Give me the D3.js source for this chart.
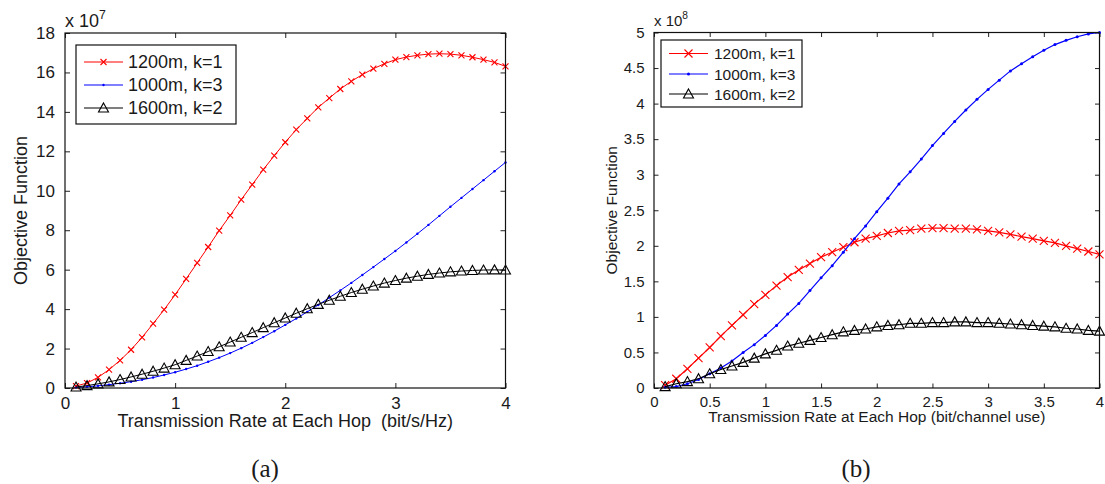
<!DOCTYPE html>
<html><head><meta charset="utf-8">
<script src="https://cdn.jsdelivr.net/npm/d3@7"></script>
<style>
html,body{margin:0;padding:0;background:#fff;}
svg{display:block;}
text{fill:#1a1a1a;}
</style></head>
<body>
<svg id="chart" width="1105" height="484"></svg>
<script>
// ---------------- DATA ----------------
const xValues = d3.range(1, 41).map(i => i / 10); // 0.1 ... 4.0 (transmission rate)

const seriesNames = ["1200m, k=1", "1000m, k=3", "1600m, k=2"];

// Panel (a): values in units of 1e7
const aRed = [0.10,0.25,0.54,0.93,1.40,1.94,2.57,3.26,3.97,4.73,
              5.53,6.34,7.15,7.98,8.75,9.55,10.31,11.07,11.78,12.46,
              13.10,13.67,14.23,14.70,15.16,15.55,15.89,16.19,16.44,16.65,
              16.78,16.87,16.93,16.95,16.93,16.87,16.77,16.65,16.51,16.31];
const aBlue = [0.02,0.06,0.11,0.17,0.24,0.32,0.42,0.53,0.66,0.80,
               0.96,1.13,1.33,1.54,1.77,2.02,2.29,2.58,2.88,3.20,
               3.52,3.86,4.21,4.58,4.95,5.33,5.73,6.13,6.54,6.95,
               7.38,7.82,8.27,8.73,9.19,9.64,10.09,10.54,10.99,11.44];
const aBlack = [0.05,0.12,0.21,0.31,0.43,0.56,0.70,0.85,1.01,1.18,
                1.40,1.62,1.85,2.09,2.33,2.57,2.81,3.06,3.31,3.55,
                3.79,4.02,4.24,4.45,4.65,4.84,5.01,5.17,5.32,5.45,
                5.57,5.67,5.76,5.83,5.89,5.93,5.96,5.98,5.99,5.98];

// Panel (b): values in units of 1e8
const bRed = [0.04,0.13,0.27,0.42,0.57,0.73,0.88,1.03,1.18,1.31,
              1.44,1.56,1.66,1.75,1.84,1.91,1.98,2.05,2.10,2.14,
              2.18,2.21,2.22,2.24,2.25,2.25,2.24,2.24,2.23,2.21,
              2.19,2.16,2.13,2.10,2.07,2.04,2.00,1.96,1.92,1.88];
const bBlue = [0.01,0.02,0.06,0.12,0.20,0.28,0.38,0.50,0.61,0.74,
               0.88,1.04,1.19,1.37,1.55,1.72,1.91,2.10,2.28,2.48,
               2.67,2.87,3.04,3.22,3.41,3.58,3.75,3.91,4.06,4.20,
               4.33,4.46,4.56,4.66,4.75,4.83,4.89,4.94,4.98,5.00];
const bBlack = [0.02,0.06,0.09,0.13,0.20,0.26,0.31,0.36,0.42,0.48,
                0.53,0.59,0.63,0.67,0.71,0.75,0.79,0.81,0.83,0.86,
                0.88,0.89,0.91,0.91,0.92,0.92,0.93,0.93,0.92,0.92,
                0.91,0.90,0.89,0.88,0.87,0.86,0.84,0.83,0.81,0.80];

const aXTicks = [0, 1, 2, 3, 4];
const aYTicks = [0, 2, 4, 6, 8, 10, 12, 14, 16, 18];
const bXTicks = [0, 0.5, 1, 1.5, 2, 2.5, 3, 3.5, 4];
const bYTicks = [0, 0.5, 1, 1.5, 2, 2.5, 3, 3.5, 4, 4.5, 5];

const aXLabel = "Transmission Rate at Each Hop\u00a0\u00a0(bit/s/Hz)";
const bXLabel = "Transmission Rate at Each Hop (bit/channel use)";
const yLabel = "Objective Function";
const aExp = "7", bExp = "8";
const captions = ["(a)", "(b)"];

// ---------------- DRAWING ----------------
const SANS = '"Liberation Sans",Arial,Helvetica,sans-serif';
const SERIF = '"Liberation Serif","Times New Roman",serif';
const svg = d3.select("#chart");
const colors = ["#ff0000", "#0000ff", "#000000"];
const markers = ["x", "dot", "tri"];

function drawMarker(g, type, cx, cy, size, color) {
  if (type === "x") {
    const s = size / 2;
    g.append("path").attr("d", `M${cx-s},${cy-s}L${cx+s},${cy+s}M${cx-s},${cy+s}L${cx+s},${cy-s}`)
      .attr("stroke", color).attr("stroke-width", 1.1).attr("fill", "none");
  } else if (type === "dot") {
    g.append("circle").attr("cx", cx).attr("cy", cy).attr("r", size / 2).attr("fill", color);
  } else {
    const s = size / 2;
    g.append("path").attr("d", `M${cx},${cy-s}L${cx+s},${cy+s*0.8}L${cx-s},${cy+s*0.8}Z`)
      .attr("stroke", color).attr("stroke-width", 1.1).attr("fill", "none");
  }
}

function panel(cfg) {
  const g = svg.append("g").style("font-family", SANS);
  const x = d3.scaleLinear().domain([0, 4]).range([cfg.left, cfg.right]);
  const y = d3.scaleLinear().domain([0, cfg.ymax]).range([cfg.bottom, cfg.top]);
  const tl = cfg.tickLen;

  const axB = g.append("g").attr("transform", `translate(0,${cfg.bottom})`)
    .call(d3.axisBottom(x).tickValues(cfg.xTicks).tickSize(-tl).tickPadding(tl + 4)
      .tickFormat(d3.format("~g")));
  const axT = g.append("g").attr("transform", `translate(0,${cfg.top})`)
    .call(d3.axisTop(x).tickValues(cfg.xTicks).tickSize(-tl).tickFormat(""));
  const axL = g.append("g").attr("transform", `translate(${cfg.left},0)`)
    .call(d3.axisLeft(y).tickValues(cfg.yTicks).tickSize(-tl).tickPadding(tl + 5)
      .tickFormat(d3.format("~g")));
  const axR = g.append("g").attr("transform", `translate(${cfg.right},0)`)
    .call(d3.axisRight(y).tickValues(cfg.yTicks).tickSize(-tl).tickFormat(""));
  [axB, axT, axL, axR].forEach(a => {
    a.select(".domain").remove();
    a.selectAll(".tick line").attr("stroke", "#222").attr("stroke-width", 1);
    a.selectAll("text").style("font-size", cfg.tickFont + "px").style("font-family", SANS)
      .attr("fill", "#1a1a1a");
  });
  axB.selectAll("text").attr("dy", "0.71em");

  const line = d3.line().x((d, i) => x(xValues[i])).y(d => y(d));
  cfg.series.forEach((vals, k) => {
    g.append("path").datum(vals).attr("d", line).attr("fill", "none")
      .attr("stroke", colors[k]).attr("stroke-width", cfg.lineW);
    const mg = g.append("g");
    vals.forEach((v, i) => drawMarker(mg, markers[k], x(xValues[i]), y(v), cfg.mSize[k], colors[k]));
  });

  g.append("rect").attr("x", cfg.left).attr("y", cfg.top)
    .attr("width", cfg.right - cfg.left).attr("height", cfg.bottom - cfg.top)
    .attr("fill", "none").attr("stroke", "#111").attr("stroke-width", 1.2);

  const L = cfg.legend;
  g.append("rect").attr("x", L.x0).attr("y", L.y0).attr("width", L.x1 - L.x0).attr("height", L.y1 - L.y0)
    .attr("fill", "#fff").attr("stroke", "#111").attr("stroke-width", 1.2);
  seriesNames.forEach((name, k) => {
    const ry = L.rows[k];
    g.append("line").attr("x1", L.lx0).attr("x2", L.lx1).attr("y1", ry).attr("y2", ry)
      .attr("stroke", colors[k]).attr("stroke-width", cfg.lineW);
    drawMarker(g, markers[k], (L.lx0 + L.lx1) / 2, ry, cfg.mSize[k], colors[k]);
    g.append("text").attr("x", L.tx).attr("y", ry).attr("dy", "0.36em")
      .style("font-size", L.font + "px").text(name);
  });

  const ex = g.append("text").attr("x", cfg.left).attr("y", cfg.expY).style("font-size", cfg.expFont + "px");
  ex.append("tspan").text("x 10");
  ex.append("tspan").style("font-size", (cfg.expFont * 0.68) + "px").attr("dy", -cfg.expFont * 0.45).text(cfg.exp);

  g.append("text").attr("x", (cfg.left + cfg.right) / 2).attr("y", cfg.xTitleY)
    .attr("text-anchor", "middle").style("font-size", cfg.titleFont + "px").text(cfg.xLabel);
  g.append("text").attr("transform", `translate(${cfg.yTitleX},${(cfg.top + cfg.bottom) / 2}) rotate(-90)`)
    .attr("text-anchor", "middle").attr("dy", "0.36em").style("font-size", cfg.titleFont + "px").text(yLabel);

  g.append("text").attr("x", cfg.capX).attr("y", 477).attr("text-anchor", "middle")
    .style("font-family", SERIF).style("font-size", "25px")
    .text(cfg.caption);
}

panel({
  left: 65, right: 505.5, top: 33, bottom: 388, ymax: 18,
  xTicks: aXTicks, yTicks: aYTicks, tickLen: 5, tickFont: 17,
  series: [aRed, aBlue, aBlack], lineW: 1, mSize: [6, 2.4, 10],
  legend: {x0: 76, x1: 236, y0: 45, y1: 124, rows: [62, 85, 108], lx0: 84, lx1: 123, tx: 128, font: 18},
  exp: aExp, expY: 27, expFont: 18,
  xLabel: aXLabel, xTitleY: 427, yTitleX: 21, titleFont: 18,
  caption: captions[0], capX: 265
});

panel({
  left: 654, right: 1099.5, top: 32.5, bottom: 388, ymax: 5,
  xTicks: bXTicks, yTicks: bYTicks, tickLen: 4.5, tickFont: 15,
  series: [bRed, bBlue, bBlack], lineW: 1.2, mSize: [8, 3, 10],
  legend: {x0: 661, x1: 802, y0: 40, y1: 107, rows: [53.5, 74, 94], lx0: 669, lx1: 708, tx: 714, font: 15.5},
  exp: bExp, expY: 26, expFont: 15,
  xLabel: bXLabel, xTitleY: 422, yTitleX: 611, titleFont: 15.5,
  caption: captions[1], capX: 856
});
</script>
</body></html>
